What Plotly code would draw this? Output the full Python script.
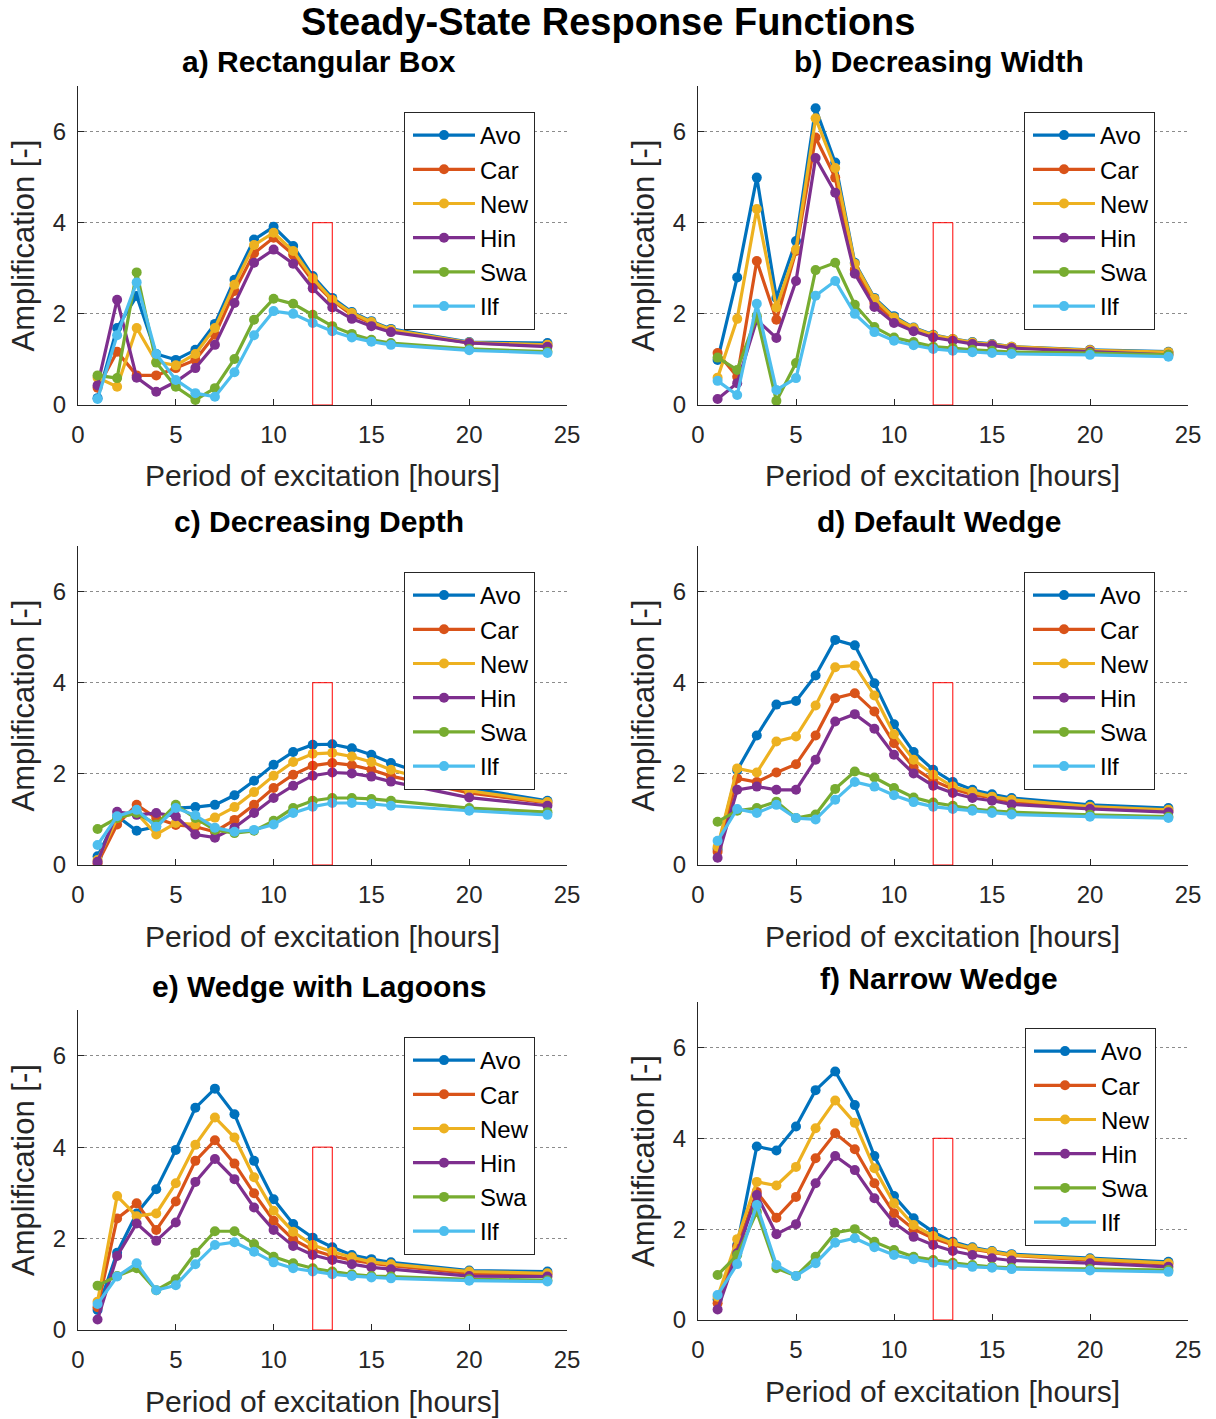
import plotly.graph_objects as go

FONT = "Liberation Sans, Arial, Helvetica, sans-serif"
AX_COLOR = "#262626"
W, H = 1216, 1419

# Excitation periods [hours]
period = [1, 2, 3, 4, 5, 6, 7, 8, 9, 10, 11, 12, 13, 14, 15, 16, 20, 24]
stations = ["Avo", "Car", "New", "Hin", "Swa", "Ilf"]
station_colors = ["#0072BD", "#D95319", "#EDB120", "#7E2F8E", "#77AC30", "#4DBEEE"]

# a) Rectangular Box
rect_avo = [0.15, 1.69, 2.39, 1.12, 0.99, 1.21, 1.78, 2.75, 3.63, 3.91, 3.49, 2.83, 2.35, 2.04, 1.84, 1.67, 1.38, 1.36]
rect_car = [0.38, 1.17, 0.65, 0.65, 0.81, 0.99, 1.54, 2.50, 3.33, 3.67, 3.30, 2.72, 2.29, 1.98, 1.80, 1.63, 1.36, 1.31]
rect_new = [0.60, 0.40, 1.69, 0.95, 0.87, 1.12, 1.69, 2.64, 3.51, 3.78, 3.38, 2.78, 2.31, 2.02, 1.82, 1.65, 1.37, 1.32]
rect_hin = [0.43, 2.31, 0.60, 0.29, 0.51, 0.81, 1.32, 2.24, 3.12, 3.41, 3.10, 2.56, 2.14, 1.89, 1.73, 1.60, 1.36, 1.28]
rect_swa = [0.65, 0.59, 2.91, 0.93, 0.40, 0.11, 0.37, 1.01, 1.87, 2.33, 2.22, 1.98, 1.73, 1.56, 1.43, 1.36, 1.23, 1.17]
rect_ilf = [0.13, 1.53, 2.69, 1.12, 0.55, 0.26, 0.18, 0.72, 1.53, 2.06, 2.00, 1.80, 1.62, 1.48, 1.39, 1.32, 1.20, 1.14]

# b) Decreasing Width
width_avo = [0.99, 2.80, 4.99, 2.35, 3.60, 6.51, 5.32, 3.12, 2.35, 1.95, 1.70, 1.54, 1.45, 1.38, 1.34, 1.28, 1.21, 1.17]
width_car = [1.14, 0.62, 3.16, 1.87, 3.38, 5.87, 4.99, 2.97, 2.24, 1.87, 1.65, 1.51, 1.43, 1.36, 1.32, 1.27, 1.20, 1.14]
width_new = [0.60, 1.89, 4.30, 2.14, 3.41, 6.29, 5.20, 3.10, 2.33, 1.92, 1.69, 1.53, 1.45, 1.37, 1.33, 1.28, 1.20, 1.16]
width_hin = [0.13, 0.48, 1.87, 1.47, 2.72, 5.42, 4.66, 2.88, 2.15, 1.80, 1.62, 1.48, 1.41, 1.34, 1.31, 1.25, 1.17, 1.10]
width_swa = [1.04, 0.77, 1.95, 0.09, 0.92, 2.96, 3.12, 2.20, 1.71, 1.48, 1.38, 1.28, 1.25, 1.21, 1.19, 1.16, 1.14, 1.10]
width_ilf = [0.53, 0.22, 2.22, 0.33, 0.59, 2.40, 2.72, 2.00, 1.60, 1.41, 1.31, 1.23, 1.19, 1.16, 1.14, 1.12, 1.10, 1.06]

# c) Decreasing Depth
depth_avo = [0.19, 1.07, 0.75, 0.84, 1.25, 1.27, 1.32, 1.53, 1.85, 2.20, 2.48, 2.64, 2.65, 2.56, 2.42, 2.24, 1.69, 1.41]
depth_car = [0.04, 0.89, 1.32, 1.03, 0.88, 0.84, 0.73, 0.99, 1.32, 1.69, 1.98, 2.18, 2.24, 2.19, 2.09, 1.95, 1.58, 1.36]
depth_new = [0.11, 1.03, 1.14, 0.67, 0.92, 0.89, 1.04, 1.27, 1.60, 1.96, 2.26, 2.44, 2.46, 2.38, 2.26, 2.09, 1.63, 1.38]
depth_hin = [0.07, 1.17, 1.10, 1.14, 1.07, 0.67, 0.60, 0.82, 1.14, 1.47, 1.74, 1.96, 2.03, 2.01, 1.94, 1.83, 1.48, 1.30]
depth_swa = [0.79, 1.03, 1.14, 0.89, 1.32, 1.03, 0.77, 0.70, 0.75, 0.97, 1.25, 1.41, 1.47, 1.47, 1.45, 1.41, 1.25, 1.16]
depth_ilf = [0.44, 1.07, 1.21, 0.84, 1.25, 1.09, 0.82, 0.73, 0.77, 0.89, 1.14, 1.28, 1.36, 1.36, 1.34, 1.30, 1.19, 1.10]

# d) Default Wedge
wedge_avo = [0.35, 2.08, 2.84, 3.52, 3.60, 4.16, 4.94, 4.82, 3.99, 3.09, 2.48, 2.09, 1.82, 1.65, 1.55, 1.47, 1.32, 1.25]
wedge_car = [0.29, 1.90, 1.82, 2.03, 2.21, 2.84, 3.66, 3.77, 3.37, 2.67, 2.14, 1.85, 1.67, 1.55, 1.47, 1.39, 1.26, 1.19]
wedge_new = [0.40, 2.12, 2.03, 2.71, 2.82, 3.50, 4.34, 4.38, 3.72, 2.87, 2.31, 1.98, 1.72, 1.60, 1.50, 1.43, 1.28, 1.21]
wedge_hin = [0.16, 1.65, 1.72, 1.65, 1.65, 2.31, 3.15, 3.31, 2.99, 2.42, 2.01, 1.74, 1.58, 1.47, 1.41, 1.33, 1.23, 1.16]
wedge_swa = [0.95, 1.19, 1.25, 1.39, 1.03, 1.11, 1.67, 2.05, 1.92, 1.69, 1.48, 1.37, 1.30, 1.23, 1.19, 1.16, 1.10, 1.06]
wedge_ilf = [0.53, 1.23, 1.14, 1.32, 1.03, 1.00, 1.43, 1.82, 1.72, 1.53, 1.38, 1.28, 1.23, 1.19, 1.14, 1.11, 1.06, 1.03]

# e) Wedge with Lagoons
lagoon_avo = [0.44, 1.69, 2.55, 3.08, 3.94, 4.86, 5.28, 4.72, 3.70, 2.86, 2.32, 2.02, 1.81, 1.64, 1.55, 1.48, 1.30, 1.28]
lagoon_car = [0.50, 2.44, 2.77, 2.19, 2.81, 3.70, 4.15, 3.64, 2.99, 2.39, 1.98, 1.75, 1.62, 1.53, 1.46, 1.41, 1.24, 1.22]
lagoon_new = [0.62, 2.93, 2.49, 2.55, 3.21, 4.05, 4.65, 4.21, 3.34, 2.61, 2.15, 1.86, 1.71, 1.59, 1.49, 1.44, 1.28, 1.24]
lagoon_hin = [0.23, 1.62, 2.33, 1.95, 2.35, 3.24, 3.74, 3.30, 2.68, 2.19, 1.84, 1.64, 1.53, 1.44, 1.37, 1.33, 1.18, 1.17]
lagoon_swa = [0.97, 1.18, 1.35, 0.87, 1.11, 1.69, 2.16, 2.16, 1.88, 1.60, 1.46, 1.35, 1.28, 1.22, 1.18, 1.17, 1.11, 1.09]
lagoon_ilf = [0.57, 1.17, 1.46, 0.87, 0.98, 1.44, 1.86, 1.92, 1.71, 1.48, 1.35, 1.28, 1.22, 1.18, 1.15, 1.13, 1.08, 1.06]

# f) Narrow Wedge
narrow_avo = [0.45, 1.65, 3.82, 3.73, 4.26, 5.06, 5.47, 4.73, 3.61, 2.73, 2.24, 1.94, 1.72, 1.60, 1.52, 1.45, 1.36, 1.28]
narrow_car = [0.37, 1.61, 2.82, 2.25, 2.71, 3.56, 4.11, 3.76, 3.01, 2.35, 2.00, 1.80, 1.65, 1.56, 1.49, 1.42, 1.32, 1.23]
narrow_new = [0.51, 1.78, 3.04, 2.96, 3.37, 4.22, 4.83, 4.34, 3.34, 2.57, 2.09, 1.85, 1.69, 1.58, 1.50, 1.43, 1.34, 1.25]
narrow_hin = [0.23, 1.47, 2.75, 1.89, 2.11, 3.01, 3.61, 3.30, 2.68, 2.14, 1.83, 1.65, 1.52, 1.43, 1.36, 1.31, 1.25, 1.17]
narrow_swa = [0.99, 1.43, 2.38, 1.14, 0.97, 1.39, 1.92, 2.00, 1.72, 1.54, 1.39, 1.32, 1.26, 1.21, 1.17, 1.15, 1.12, 1.10]
narrow_ilf = [0.55, 1.23, 2.53, 1.21, 0.97, 1.25, 1.70, 1.80, 1.60, 1.43, 1.34, 1.26, 1.21, 1.17, 1.15, 1.12, 1.09, 1.06]

panel_titles = ["a) Rectangular Box", "b) Decreasing Width", "c) Decreasing Depth",
                "d) Default Wedge", "e) Wedge with Lagoons", "f) Narrow Wedge"]
panel_series = [
    [rect_avo, rect_car, rect_new, rect_hin, rect_swa, rect_ilf],
    [width_avo, width_car, width_new, width_hin, width_swa, width_ilf],
    [depth_avo, depth_car, depth_new, depth_hin, depth_swa, depth_ilf],
    [wedge_avo, wedge_car, wedge_new, wedge_hin, wedge_swa, wedge_ilf],
    [lagoon_avo, lagoon_car, lagoon_new, lagoon_hin, lagoon_swa, lagoon_ilf],
    [narrow_avo, narrow_car, narrow_new, narrow_hin, narrow_swa, narrow_ilf],
]

# highlighted window (period 12-13 h, amplification 0-4)
window_x = [12, 13]
window_y = [0, 4]

# pixel layout of each axes box: (left, right, top, bottom)
boxes = [
    (78, 567, 86, 405), (698, 1188, 86, 405),
    (78, 567, 546, 865), (698, 1188, 546, 865),
    (78, 567, 1010, 1330), (698, 1188, 1002, 1320),
]
# pixel positions of the legend box top-left corners
legend_pos = [(404, 112), (1024, 112), (404, 572), (1024, 572), (404, 1037), (1025, 1028)]
title_gap = 24   # px from axes top to subplot title centre
title_dx = -4    # horizontal nudge of subplot titles
xlabel_gap = 71  # px from axes bottom to x-label centre


def px(x):
    return x / W


def py(y):
    return 1 - y / H


fig = go.Figure()
layout = dict(
    width=W, height=H,
    margin=dict(l=0, r=0, t=0, b=0, autoexpand=False),
    paper_bgcolor="white", plot_bgcolor="white",
    font=dict(family=FONT, color=AX_COLOR),
    showlegend=True,
)
annotations = []
shapes = []

for i, (title, series) in enumerate(zip(panel_titles, panel_series)):
    n = i + 1
    sfx = "" if n == 1 else str(n)
    xref, yref = "x" + sfx, "y" + sfx
    leg = "legend" + sfx
    left, right, top, bottom = boxes[i]

    for name, color, vals in zip(stations, station_colors, series):
        fig.add_trace(go.Scatter(
            x=period, y=vals, name=name, mode="lines+markers",
            line=dict(color=color, width=3.2),
            marker=dict(color=color, size=10),
            xaxis=xref, yaxis=yref, legend=leg,
            legendgroup=f"{leg}-{name}",
        ))

    layout["xaxis" + sfx] = dict(
        domain=[px(left), px(right)], anchor=yref, automargin=False,
        range=[0, 25], tickvals=[0, 5, 10, 15, 20, 25],
        showgrid=False, zeroline=False,
        showline=True, linecolor=AX_COLOR, linewidth=1,
        ticks="inside", ticklen=6, tickcolor=AX_COLOR,
        tickfont=dict(size=24, color=AX_COLOR, family=FONT),
        ticklabelstandoff=8,
    )
    layout["yaxis" + sfx] = dict(
        domain=[py(bottom), py(top)], anchor=xref, automargin=False,
        range=[0, 7], tickvals=[0, 2, 4, 6],
        showgrid=True, gridcolor="#8c8c8c", griddash="dot", gridwidth=1,
        zeroline=False,
        showline=True, linecolor=AX_COLOR, linewidth=1,
        ticks="inside", ticklen=6, tickcolor=AX_COLOR,
        tickfont=dict(size=24, color=AX_COLOR, family=FONT),
        ticklabelstandoff=6,
    )
    lx, ly = legend_pos[i]
    layout[leg] = dict(
        x=px(lx), y=py(ly), xanchor="left", yanchor="top",
        bgcolor="white", bordercolor=AX_COLOR, borderwidth=1,
        font=dict(size=24, color="black", family=FONT),
        itemwidth=62, indentation=3, tracegroupgap=0,
        itemclick=False, itemdoubleclick=False,
    )

    cx = (left + right) / 2
    annotations.append(dict(
        text=f"<b>{title}</b>", x=px(cx + title_dx), y=py(top - title_gap),
        xref="paper", yref="paper", xanchor="center", yanchor="middle",
        showarrow=False, font=dict(size=30, color="black", family=FONT),
    ))
    annotations.append(dict(
        text="Period of excitation [hours]", x=px(cx), y=py(bottom + xlabel_gap),
        xref="paper", yref="paper", xanchor="center", yanchor="middle",
        showarrow=False, font=dict(size=30, color=AX_COLOR, family=FONT),
    ))
    annotations.append(dict(
        text="Amplification [-]", x=px(left - 55), y=py((top + bottom) / 2),
        xref="paper", yref="paper", xanchor="center", yanchor="middle",
        textangle=-90, showarrow=False,
        font=dict(size=31, color=AX_COLOR, family=FONT),
    ))
    shapes.append(dict(
        type="rect", xref=xref, yref=yref,
        x0=window_x[0], x1=window_x[1], y0=window_y[0], y1=window_y[1],
        line=dict(color="red", width=1), fillcolor="rgba(0,0,0,0)", layer="above",
    ))

annotations.append(dict(
    text="<b>Steady-State Response Functions</b>", x=0.5, y=py(22),
    xref="paper", yref="paper", xanchor="center", yanchor="middle",
    showarrow=False, font=dict(size=38, color="black", family=FONT),
))

layout["annotations"] = annotations
layout["shapes"] = shapes
fig.update_layout(**layout)

fig.write_html("out.html")
